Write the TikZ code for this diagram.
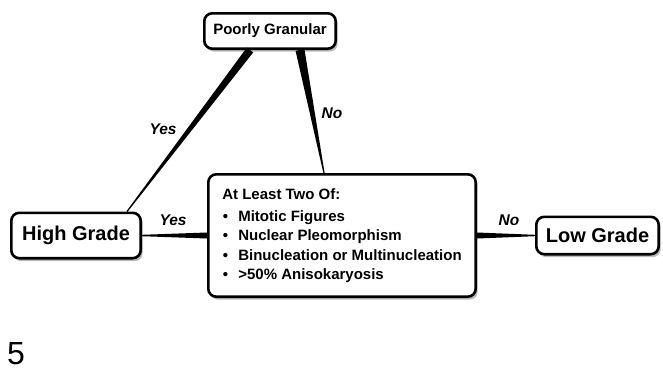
\documentclass[tikz,border=0pt]{standalone}
\usepackage{fontspec}
\setmainfont{Liberation Sans}
\colorlet{colorBorder}{black}
\colorlet{colorShadow}{black!75}
\colorlet{colorEdge}{black}
\usetikzlibrary{calc, positioning, shadows}
\tikzset{grade/.style={draw=colorBorder, line width=2.6pt, rounded corners=8pt, fill=white, inner sep=0pt, drop shadow={shadow xshift=2pt, shadow yshift=-3pt, opacity=0.35, fill=colorShadow}, font=\bfseries\fontsize{20}{24}\selectfont}}
\tikzset{question/.style={grade, font=\bfseries\fontsize{15}{19.3}\selectfont}}
\tikzset{answer/.style={inner sep=0pt, font=\bfseries\itshape\fontsize{15.5}{18}\selectfont}}
\newcommand{\taper}[4]{\fill[colorEdge] ($(#1)!#3!90:(#2)$) -- ($(#1)!#3!-90:(#2)$) -- ($(#2)!#4!90:(#1)$) -- ($(#2)!#4!-90:(#1)$) -- cycle;}
\newcommand{\crit}[1]{\makebox[16pt][l]{\hspace{0.5pt}\textbullet}#1}

\begin{document}
\begin{tikzpicture}[x=1pt, y=-1pt]
\useasboundingbox (0,0) rectangle (663,373);
\node[question, align=left, minimum width=267.4pt, minimum height=122.4pt] (twoOf) at (342,235.5) {At Least Two Of:\\[2.7pt]\crit{Mitotic Figures}\\\crit{Nuclear Pleomorphism}\\\crit{Binucleation or Multinucleation}\\\crit{>50\% Anisokaryosis}};
\node[grade, minimum width=129.4pt, minimum height=45.4pt, left=65pt of twoOf] (high) {High Grade};
\node[grade, minimum width=122.4pt, minimum height=37.4pt, right=58pt of twoOf] (low) {Low Grade};
\node[question, minimum width=131.4pt, minimum height=35.4pt, above=123pt of twoOf, xshift=-72pt] (granular) {Poorly Granular};
\coordinate (granularYes) at ([xshift=-20pt]granular.south);
\coordinate (granularNo) at ([xshift=30pt]granular.south);
\coordinate (highTop) at ([xshift=51pt]high.north);
\coordinate (twoOfTop) at ([xshift=-18pt]twoOf.north);
\taper{granularYes}{highTop}{4pt}{0.6pt}
\taper{granularNo}{twoOfTop}{4.5pt}{0.6pt}
\taper{twoOf.west}{high.east}{3pt}{0.7pt}
\taper{twoOf.east}{low.west}{3pt}{0.7pt}
\node[answer] (yesGranular) at (163,129) {Yes};
\node[answer] (noGranular) at (332,113) {No};
\node[answer] (yesTwo) at (173,220) {Yes};
\node[answer] (noTwo) at (509,220) {No};
\node[anchor=base west, inner sep=0pt, font=\fontsize{32}{38}\selectfont] (figNum) at (7,364) {5};
\end{tikzpicture}
\end{document}
